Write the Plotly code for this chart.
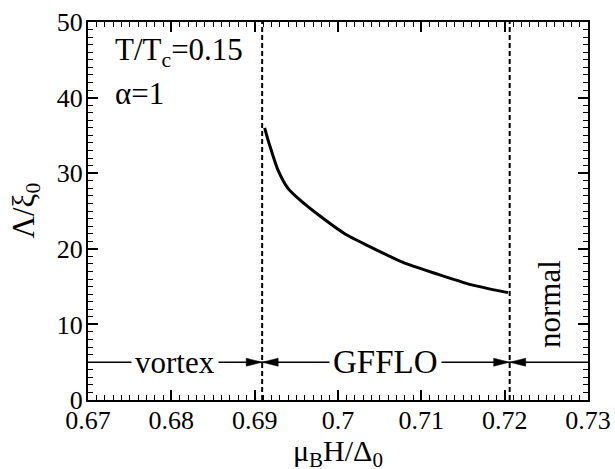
import plotly.graph_objects as go

# data
field = [0.6912, 0.6916, 0.6920, 0.6928, 0.6940, 0.6956, 0.6980, 0.7008, 0.7038, 0.7078, 0.7118, 0.7158, 0.7204]
lam = [36.0, 34.4, 33.0, 30.4, 28.0, 26.3, 24.2, 22.0, 20.3, 18.2, 16.7, 15.3, 14.2]
boundaries = [0.6909, 0.7206]
phase_labels = ["vortex", "GFFLO", "normal"]
arrow_level = 5
x_range = [0.67, 0.73]
y_range = [0, 50]
x_ticks = [0.67, 0.68, 0.69, 0.70, 0.71, 0.72, 0.73]
x_ticklabels = ["0.67", "0.68", "0.69", "0.7", "0.71", "0.72", "0.73"]
y_ticks = [0, 10, 20, 30, 40, 50]

FONT = "Liberation Serif, Times New Roman, Times, serif"
fig = go.Figure()
fig.add_trace(go.Scatter(x=field, y=lam, mode="lines", line_shape="spline",
                         line=dict(color="black", width=3, smoothing=0.6), showlegend=False))

shapes = []
for b in boundaries:
    shapes.append(dict(type="line", xref="x", yref="y", x0=b, x1=b, y0=y_range[0], y1=y_range[1],
                       line=dict(color="black", width=2, dash="5px,3px")))
segs = [(x_range[0], boundaries[0]), (boundaries[0], boundaries[1]), (boundaries[1], x_range[1])]
for a, b in segs:
    shapes.append(dict(type="line", xref="x", yref="y", x0=a, x1=b, y0=arrow_level, y1=arrow_level,
                       line=dict(color="black", width=1.5)))
for b in boundaries:
    for side in (-1, 1):
        shapes.append(dict(type="path", xref="x", yref="y", xsizemode="pixel", ysizemode="pixel",
                           xanchor=b, yanchor=arrow_level,
                           path=f"M0,0 L{side*16},4 L{side*16},-4 Z",
                           fillcolor="black", line=dict(color="black", width=0.5)))

txt = dict(family=FONT, size=31, color="black")
annotations = [
    dict(x=(segs[0][0] + segs[0][1]) / 2, y=arrow_level, text=phase_labels[0], showarrow=False,
         bgcolor="white", borderpad=3, font=txt),
    dict(x=(segs[1][0] + segs[1][1]) / 2, y=arrow_level, text=phase_labels[1], showarrow=False,
         bgcolor="white", borderpad=3, font=dict(family=FONT, size=33, color="black")),
    dict(x=(segs[2][0] + segs[2][1]) / 2, y=arrow_level, text=phase_labels[2], showarrow=False,
         textangle=-90, xanchor="center", yanchor="bottom", yshift=12, font=txt),
    dict(xref="paper", yref="paper", x=0.05, y=0.92, xanchor="left", yanchor="middle",
         text="T/T<sub>c</sub>=0.15", showarrow=False, font=txt),
    dict(xref="paper", yref="paper", x=0.05, y=0.81, xanchor="left", yanchor="middle",
         text="α=1", showarrow=False, font=txt),
    # axis titles
    dict(xref="paper", yref="paper", x=0.5, y=-0.14, xanchor="center", yanchor="middle",
         text="μ<sub>B</sub>H/Δ<sub>0</sub>", showarrow=False, font=dict(family=FONT, size=30, color="black")),
    dict(xref="paper", yref="paper", x=-0.125, y=0.5, xanchor="center", yanchor="middle", textangle=-90,
         text="Λ/ξ<sub>0</sub>", showarrow=False, font=dict(family=FONT, size=31, color="black")),
]

axis_common = dict(showline=True, linecolor="black", linewidth=2, mirror="ticks",
                   ticks="inside", ticklen=10, tickwidth=1.5, tickcolor="black",
                   showgrid=False, zeroline=False, automargin=False,
                   tickfont=dict(family=FONT, size=26, color="black"))
fig.update_xaxes(range=x_range, tickvals=x_ticks, ticktext=x_ticklabels, ticklabelstandoff=-4,
                 minor=dict(ticks="inside", ticklen=5, tickwidth=1.2, tickcolor="black", dtick=0.001, tick0=0.67),
                 **axis_common)
fig.update_yaxes(range=y_range, tickvals=y_ticks, ticklabelstandoff=-2,
                 minor=dict(ticks="inside", ticklen=5, tickwidth=1.2, tickcolor="black", dtick=1, tick0=0),
                 **axis_common)
fig.update_layout(width=615, height=469, margin=dict(l=88, r=27, t=22, b=69),
                  plot_bgcolor="white", paper_bgcolor="white",
                  shapes=shapes, annotations=annotations)
fig.write_html("out.html", config={"displayModeBar": False},
               post_script="document.body.style.margin='0px';")
